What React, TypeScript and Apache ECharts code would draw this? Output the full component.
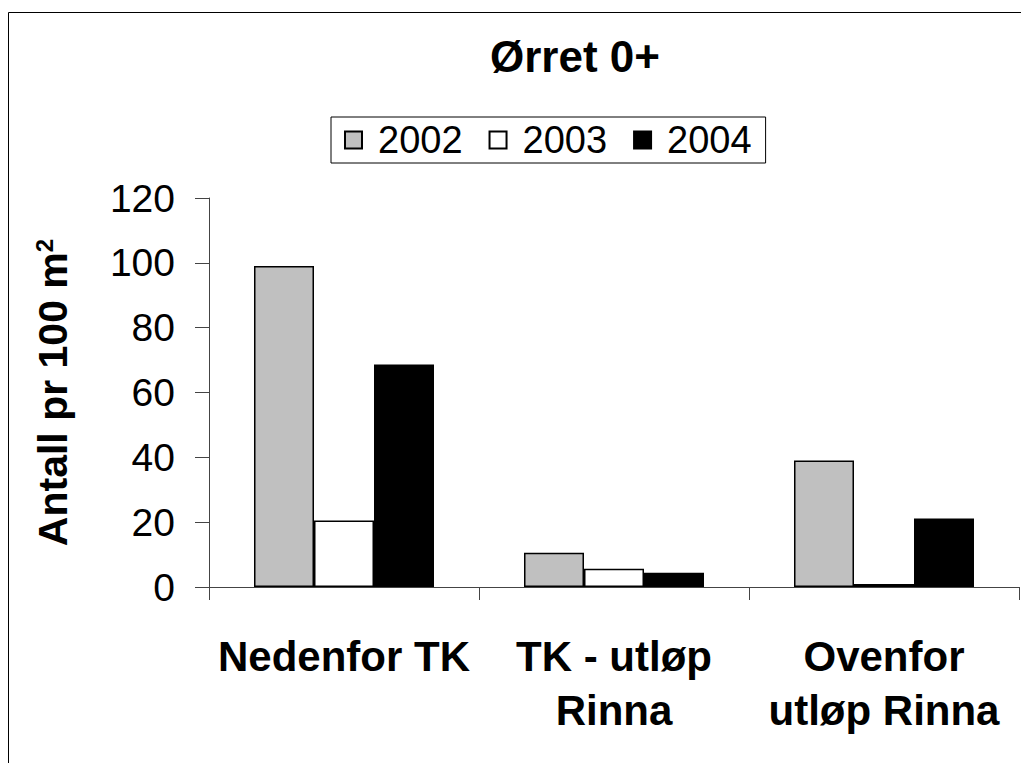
import React, { useEffect, useRef } from "react";
import * as echarts from "echarts";

const categories = ["Nedenfor TK", "TK - utløp\nRinna", "Ovenfor\nutløp Rinna"];
const seriesNames = ["2002", "2003", "2004"];
const values2002 = [99, 10.6, 39];
const values2003 = [20.5, 5.6, 0.9];
const values2004 = [68.6, 4.4, 21.1];
const seriesColors = ["#c0c0c0", "#ffffff", "#000000"];
const yTicks = { min: 0, max: 120, interval: 20 };

const FONT = "'Liberation Sans', Arial, Helvetica, sans-serif";

export default function App() {
  const ref = useRef<HTMLDivElement>(null);
  useEffect(() => {
    document.body.style.margin = "0";
    if (!ref.current) return;
    const chart = echarts.init(ref.current, undefined, { renderer: "svg" });
    const data = [values2002, values2003, values2004];
    chart.setOption({
      animation: false,
      backgroundColor: "#ffffff",
      textStyle: { fontFamily: FONT },
      graphic: [
        {
          type: "rect",
          shape: { x: 8.5, y: 12.5, width: 1100, height: 900 },
          style: { fill: "none", stroke: "#000", lineWidth: 1 },
          silent: true,
          z: -10,
        },
      ],
      title: {
        text: "Ørret 0+",
        left: 570,
        textAlign: "center",
        top: 29,
        textStyle: { fontFamily: FONT, fontWeight: "bold", fontSize: 44, color: "#000" },
      },
      legend: {
        left: 331,
        top: 117,
        padding: [4, 14, 4, 13],
        borderColor: "#000",
        borderWidth: 1,
        itemGap: 26,
        itemWidth: 17,
        itemHeight: 17,
        icon: "rect",
        data: seriesNames,
        textStyle: { fontFamily: FONT, fontSize: 38, color: "#000", lineHeight: 37, padding: [0, 0, 0, 11] },
      },
      grid: { left: 209, right: 2, top: 198, bottom: 176, containLabel: false },
      xAxis: {
        type: "category",
        data: categories,
        axisLine: { lineStyle: { color: "#444", width: 1 } },
        axisTick: { show: true, length: 13, alignWithLabel: false, interval: 0, lineStyle: { color: "#444" } },
        axisLabel: {
          interval: 0,
          margin: 42,
          fontFamily: FONT,
          fontWeight: "bold",
          fontSize: 42,
          lineHeight: 54,
          color: "#000",
          align: "center",
        },
      },
      yAxis: {
        type: "value",
        min: yTicks.min,
        max: yTicks.max,
        interval: yTicks.interval,
        name: "Antall pr 100 m{sup|2}",
        nameLocation: "middle",
        nameGap: 136,
        nameTextStyle: {
          fontFamily: FONT,
          fontWeight: "bold",
          fontSize: 41,
          color: "#000",
          rich: {
            sup: { fontFamily: FONT, fontWeight: "bold", fontSize: 24, color: "#000", verticalAlign: "top", padding: [0, 0, 16, 0] },
          },
        },
        axisLine: { show: true, lineStyle: { color: "#444", width: 1 } },
        axisTick: { show: true, length: 14, lineStyle: { color: "#444" } },
        splitLine: { show: false },
        axisLabel: { margin: 34, fontFamily: FONT, fontSize: 39, color: "#000" },
      },
      series: seriesNames.map((name, i) => ({
        name,
        type: "bar",
        data: data[i],
        barWidth: 60,
        barGap: "0%",
        itemStyle: { color: seriesColors[i], borderColor: "#000", borderWidth: 1.5 },
      })),
    });
    return () => chart.dispose();
  }, []);
  return <div ref={ref} style={{ width: 1021, height: 763 }} />;
}
